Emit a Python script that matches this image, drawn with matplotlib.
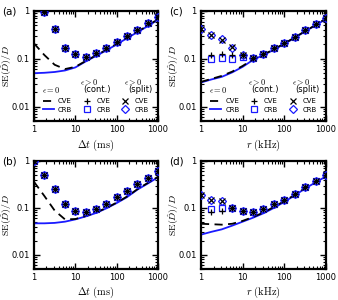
import numpy as np
import matplotlib
matplotlib.use("Agg")
import matplotlib.pyplot as plt
from matplotlib.ticker import FixedLocator, FixedFormatter, LogLocator, NullFormatter
from matplotlib.lines import Line2D

plt.rcParams['mathtext.fontset'] = 'cm'
plt.rcParams['font.family'] = ['DejaVu Sans']

nan = np.nan
x = [1, 1.78, 3.16, 5.62, 10, 17.8, 31.6, 56.2, 100, 178, 316, 562, 1000]

# panel (a)
crb_a = [0.050, 0.051, 0.053, 0.057, 0.066, 0.088, 0.115, 0.15, 0.2, 0.27, 0.36, 0.48, 0.66]
cve_a = [0.21, 0.12, 0.075, 0.061, 0.068, 0.09, 0.118, 0.154, 0.205, 0.275, 0.37, 0.49, 0.68]
cont_cve_a = [nan, 0.95, 0.42, 0.17, 0.125, 0.11, 0.13, 0.165, 0.23, 0.30, 0.41, 0.56, 0.76]
cont_crb_a = [nan, 0.95, 0.42, 0.17, 0.125, 0.11, 0.13, 0.165, 0.23, 0.30, 0.41, 0.56, 0.76]
split_cve_a = [nan, 0.95, 0.42, 0.17, 0.125, 0.11, 0.13, 0.165, 0.23, 0.30, 0.41, 0.56, 0.76]
split_crb_a = [nan, 0.95, 0.42, 0.17, 0.125, 0.11, 0.13, 0.165, 0.23, 0.30, 0.41, 0.56, 0.76]

# panel (b)
crb_b = [0.047, 0.047, 0.048, 0.051, 0.057, 0.066, 0.078, 0.098, 0.127, 0.17, 0.245, 0.33, 0.45]
cve_b = [0.36, 0.18, 0.088, 0.057, 0.058, 0.067, 0.080, 0.10, 0.13, 0.175, 0.25, 0.34, 0.46]
pts_b = [0.98, 0.50, 0.25, 0.12, 0.087, 0.083, 0.094, 0.12, 0.17, 0.23, 0.33, 0.43, 0.62]

# panel (c)
crb_c = [0.032, 0.037, 0.042, 0.052, 0.068, 0.095, 0.12, 0.155, 0.205, 0.275, 0.375, 0.5, 0.68]
cve_c = [0.033, 0.038, 0.044, 0.054, 0.071, 0.098, 0.123, 0.158, 0.21, 0.28, 0.38, 0.51, 0.70]
cont_cve_c = [nan, 0.12, 0.125, 0.12, 0.12, 0.105, 0.125, 0.165, 0.21, 0.29, 0.40, 0.53, 0.72]
cont_crb_c = [nan, 0.10, 0.105, 0.10, 0.11, 0.105, 0.125, 0.165, 0.21, 0.29, 0.40, 0.53, 0.72]
split_cve_c = [0.43, 0.31, 0.25, 0.175, 0.12, 0.105, 0.125, 0.165, 0.21, 0.29, 0.40, 0.53, 0.72]
split_crb_c = [0.43, 0.32, 0.26, 0.165, 0.12, 0.105, 0.125, 0.165, 0.21, 0.29, 0.40, 0.53, 0.72]

# panel (d)
crb_d = [0.027, 0.031, 0.035, 0.042, 0.051, 0.062, 0.077, 0.10, 0.135, 0.185, 0.26, 0.35, 0.47]
cve_d = [0.046, 0.045, 0.044, 0.046, 0.053, 0.064, 0.080, 0.105, 0.14, 0.19, 0.265, 0.355, 0.48]
cont_cve_d = [nan, 0.08, 0.088, 0.10, 0.087, 0.083, 0.094, 0.12, 0.15, 0.20, 0.28, 0.37, 0.50]
cont_crb_d = [nan, 0.095, 0.10, 0.10, 0.087, 0.083, 0.094, 0.12, 0.15, 0.20, 0.28, 0.37, 0.50]
split_cve_d = [0.185, 0.15, 0.14, 0.10, 0.087, 0.083, 0.094, 0.12, 0.15, 0.20, 0.28, 0.37, 0.50]
split_crb_d = [0.185, 0.15, 0.14, 0.10, 0.087, 0.083, 0.094, 0.12, 0.15, 0.20, 0.28, 0.37, 0.50]

xticks = [1, 10, 100, 1000]
xticklabels = ['1', '10', '100', '1000']
yticks = [0.01, 0.1, 1]
yticklabels = ['0.01', '0.1', '1']

BLUE = '#1a1aff'

fig = plt.figure(figsize=(3.38, 3.0), dpi=100)
W, H = 338, 300
def box(l, t, r, b):
    return [l / W, 1 - b / H, (r - l) / W, (b - t) / H]

ax_a = fig.add_axes(box(34, 11, 158, 121))
ax_c = fig.add_axes(box(201, 11, 326, 121))
ax_b = fig.add_axes(box(34, 161, 158, 269))
ax_d = fig.add_axes(box(201, 161, 326, 269))

def draw(ax, crb, cve, ccve, ccrb, scve, scrb):
    ax.plot(x, crb, '-', color=BLUE, lw=1.3, zorder=2)
    ax.plot(x, cve, '--', color='black', lw=1.3, dashes=(4.5, 3), zorder=3)
    ax.plot(x, ccrb, 's', mfc='none', mec=BLUE, ms=4.5, mew=0.9, ls='none', zorder=4)
    ax.plot(x, scrb, 'D', mfc='none', mec=BLUE, ms=4.5, mew=0.9, ls='none', zorder=4)
    ax.plot(x, ccve, '+', color='black', ms=5, mew=0.9, ls='none', zorder=5)
    ax.plot(x, scve, 'x', color='black', ms=4, mew=0.9, ls='none', zorder=5)

draw(ax_a, crb_a, cve_a, cont_cve_a, cont_crb_a, split_cve_a, split_crb_a)
draw(ax_b, crb_b, cve_b, pts_b, pts_b, pts_b, pts_b)
draw(ax_c, crb_c, cve_c, cont_cve_c, cont_crb_c, split_cve_c, split_crb_c)
draw(ax_d, crb_d, cve_d, cont_cve_d, cont_crb_d, split_cve_d, split_crb_d)

for ax in (ax_a, ax_b, ax_c, ax_d):
    ax.set_xscale('log')
    ax.set_yscale('log')
    ax.set_xlim(1, 1000)
    ax.set_ylim(0.005, 1)
    ax.xaxis.set_major_locator(FixedLocator(xticks))
    ax.xaxis.set_major_formatter(FixedFormatter(xticklabels))
    ax.yaxis.set_major_locator(FixedLocator(yticks))
    ax.yaxis.set_major_formatter(FixedFormatter(yticklabels))
    ax.xaxis.set_minor_locator(LogLocator(base=10, subs=np.arange(2, 10)))
    ax.yaxis.set_minor_locator(LogLocator(base=10, subs=np.arange(2, 10)))
    ax.xaxis.set_minor_formatter(NullFormatter())
    ax.yaxis.set_minor_formatter(NullFormatter())
    ax.tick_params(which='both', direction='in', top=True, right=True, labelsize=6, pad=3)
    ax.tick_params(which='major', length=4, width=1.0)
    ax.tick_params(which='minor', length=2, width=0.8)
    for s in ax.spines.values():
        s.set_linewidth(1.6)
    ax.set_ylabel(r'$\mathrm{SE}(\hat{D})/D$', fontsize=7)
    ax.yaxis.set_label_coords(-0.16, 0.5)

ax_a.set_xlabel(r'$\Delta t\ (\mathrm{ms})$', fontsize=7.5)
ax_b.set_xlabel(r'$\Delta t\ (\mathrm{ms})$', fontsize=7.5)
ax_c.set_xlabel(r'$r\ (\mathrm{kHz})$', fontsize=7.5)
ax_d.set_xlabel(r'$r\ (\mathrm{kHz})$', fontsize=7.5)
for ax in (ax_a, ax_b, ax_c, ax_d):
    ax.xaxis.set_label_coords(0.5, -0.15)

fig.text(2 / W, 1 - 11 / H, '(a)', fontsize=7.5, va='center', ha='left')
fig.text(169 / W, 1 - 11 / H, '(c)', fontsize=7.5, va='center', ha='left')
fig.text(2 / W, 1 - 161 / H, '(b)', fontsize=7.5, va='center', ha='left')
fig.text(169 / W, 1 - 161 / H, '(d)', fontsize=7.5, va='center', ha='left')

def legend(ax):
    h = [Line2D([], [], color='black', ls='--', lw=1.3, dashes=(4.5, 3)),
         Line2D([], [], color=BLUE, ls='-', lw=1.3),
         Line2D([], [], color='black', marker='+', ls='none', ms=5, mew=0.9),
         Line2D([], [], color=BLUE, marker='s', mfc='none', ls='none', ms=4.5, mew=0.9),
         Line2D([], [], color='black', marker='x', ls='none', ms=4, mew=0.9),
         Line2D([], [], color=BLUE, marker='D', mfc='none', ls='none', ms=4.5, mew=0.9)]
    lab = ['CVE', 'CRB', 'CVE', 'CRB', 'CVE', 'CRB']
    ax.legend(h, lab, ncol=3, loc='lower center', bbox_to_anchor=(0.5, 0.03),
              frameon=False, fontsize=5, handlelength=1.6, handletextpad=0.6,
              columnspacing=1.3, labelspacing=0.35, borderpad=0.2)
    ax.text(0.14, 0.28, r'$\epsilon=0$', transform=ax.transAxes, fontsize=6,
            ha='center', va='center')
    ax.text(0.45, 0.355, r'$\epsilon>0$', transform=ax.transAxes, fontsize=6,
            ha='center', va='center')
    ax.text(0.51, 0.285, '(cont.)', transform=ax.transAxes, fontsize=6,
            ha='center', va='center')
    ax.text(0.80, 0.355, r'$\epsilon>0$', transform=ax.transAxes, fontsize=6,
            ha='center', va='center')
    ax.text(0.855, 0.285, '(split)', transform=ax.transAxes, fontsize=6,
            ha='center', va='center')

legend(ax_a)
legend(ax_c)

fig.savefig('out.png', dpi=100)
